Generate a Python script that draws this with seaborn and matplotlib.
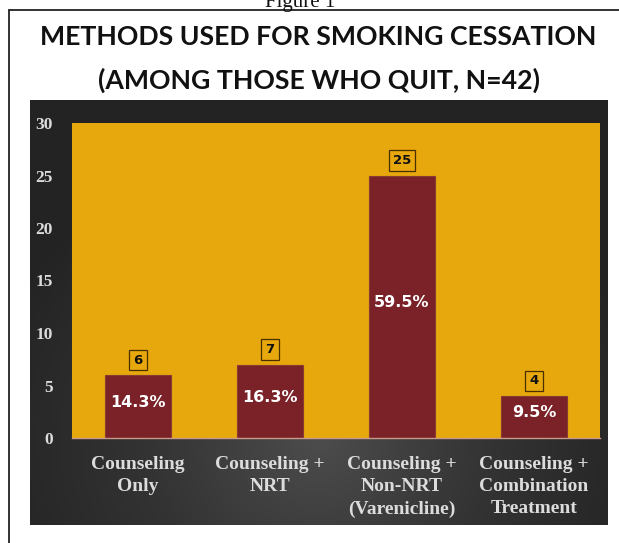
import numpy as np
import pandas as pd
import seaborn as sns
import matplotlib.pyplot as plt

# data
categories = ['Counseling\nOnly', 'Counseling +\nNRT',
              'Counseling +\nNon-NRT\n(Varenicline)',
              'Counseling +\nCombination\nTreatment']
counts = [6, 7, 25, 4]
percent_labels = ['14.3%', '16.3%', '59.5%', '9.5%']
y_ticks = [0, 5, 10, 15, 20, 25, 30]

df = pd.DataFrame({'Method': categories, 'Count': counts})

ORANGE = '#E6A80C'
MAROON = '#7A2227'

sns.set_style('white')
W, H = 619, 543
fig = plt.figure(figsize=(W / 100, H / 100), dpi=100)
fig.patch.set_facecolor('white')


def fx(px):
    return px / W


def fy(py):
    return 1 - py / H


# outer frame (left and top lines only visible)
fig.add_artist(plt.Line2D([fx(9), fx(9)], [0, fy(10)], color='#222222', lw=1.3))
fig.add_artist(plt.Line2D([fx(9), 1], [fy(10), fy(10)], color='#222222', lw=1.3))

fig.text(fx(300), fy(7), 'Figure 1', ha='center', va='baseline',
         fontsize=15, family='Liberation Serif', color='#111111')

# titles
title_font = ['Lato', 'DejaVu Sans']
fig.text(fx(318), fy(37), 'METHODS USED FOR SMOKING CESSATION', ha='center',
         va='center', fontsize=19.2, weight='bold', family=title_font, color='#111111')
fig.text(fx(319), fy(80), '(AMONG THOSE WHO QUIT, N=42)', ha='center',
         va='center', fontsize=19.2, weight='bold', family=title_font, color='#111111')

# dark gradient panel
bg = fig.add_axes([fx(30), fy(525), fx(608) - fx(30), (525 - 100) / H])
gx, gy = np.meshgrid(np.linspace(-1, 1, 300), np.linspace(-1, 1, 220))
r = np.sqrt((gx / 1.2) ** 2 + ((gy - 0.6) / 1.5) ** 2)
bg.imshow(np.clip(r, 0, 1), cmap=sns.blend_palette(['#4c4c4c', '#333333', '#232323'], as_cmap=True),
          aspect='auto', extent=[0, 1, 0, 1], origin='upper')
bg.set_axis_off()

ax = fig.add_axes([fx(72), fy(438), fx(600) - fx(72), (438 - 123) / H])
ax.set_facecolor(ORANGE)
sns.barplot(data=df, x='Method', y='Count', color=MAROON, width=0.5,
            saturation=1, ax=ax, edgecolor='#8a3a35', linewidth=0.8)

ax.set_ylim(0, 30)
ax.set_yticks(y_ticks)
ax.set_xlim(-0.5, len(categories) - 0.5)
ax.set_xlabel('')
ax.set_ylabel('')
for s in ['top', 'right', 'left']:
    ax.spines[s].set_visible(False)
ax.spines['bottom'].set_color('#c89a8a')
ax.spines['bottom'].set_linewidth(1)
ax.tick_params(axis='y', length=0, pad=14, labelcolor='#dcdcdc')
ax.tick_params(axis='x', length=0, pad=13, labelcolor='#dcdcdc')
for lab in ax.get_yticklabels():
    lab.set_fontfamily('Liberation Serif')
    lab.set_fontweight('bold')
    lab.set_fontsize(12.5)
for lab in ax.get_xticklabels():
    lab.set_fontfamily('Liberation Serif')
    lab.set_fontweight('bold')
    lab.set_fontsize(14)
    lab.set_linespacing(1.4)

for i, (c, p) in enumerate(zip(counts, percent_labels)):
    ax.annotate(str(c), (i, c), xytext=(0, 15), textcoords='offset pixels',
                ha='center', va='center', fontsize=9.5, weight='bold', color='#111111',
                bbox=dict(boxstyle='square,pad=0.3', fc=ORANGE, ec='#4a3000', lw=0.9))
    ax.text(i, c / 2 + 0.4, p, ha='center', va='center', fontsize=11.5,
            weight='bold', color='white')

fig.savefig('out.png', dpi=100)
